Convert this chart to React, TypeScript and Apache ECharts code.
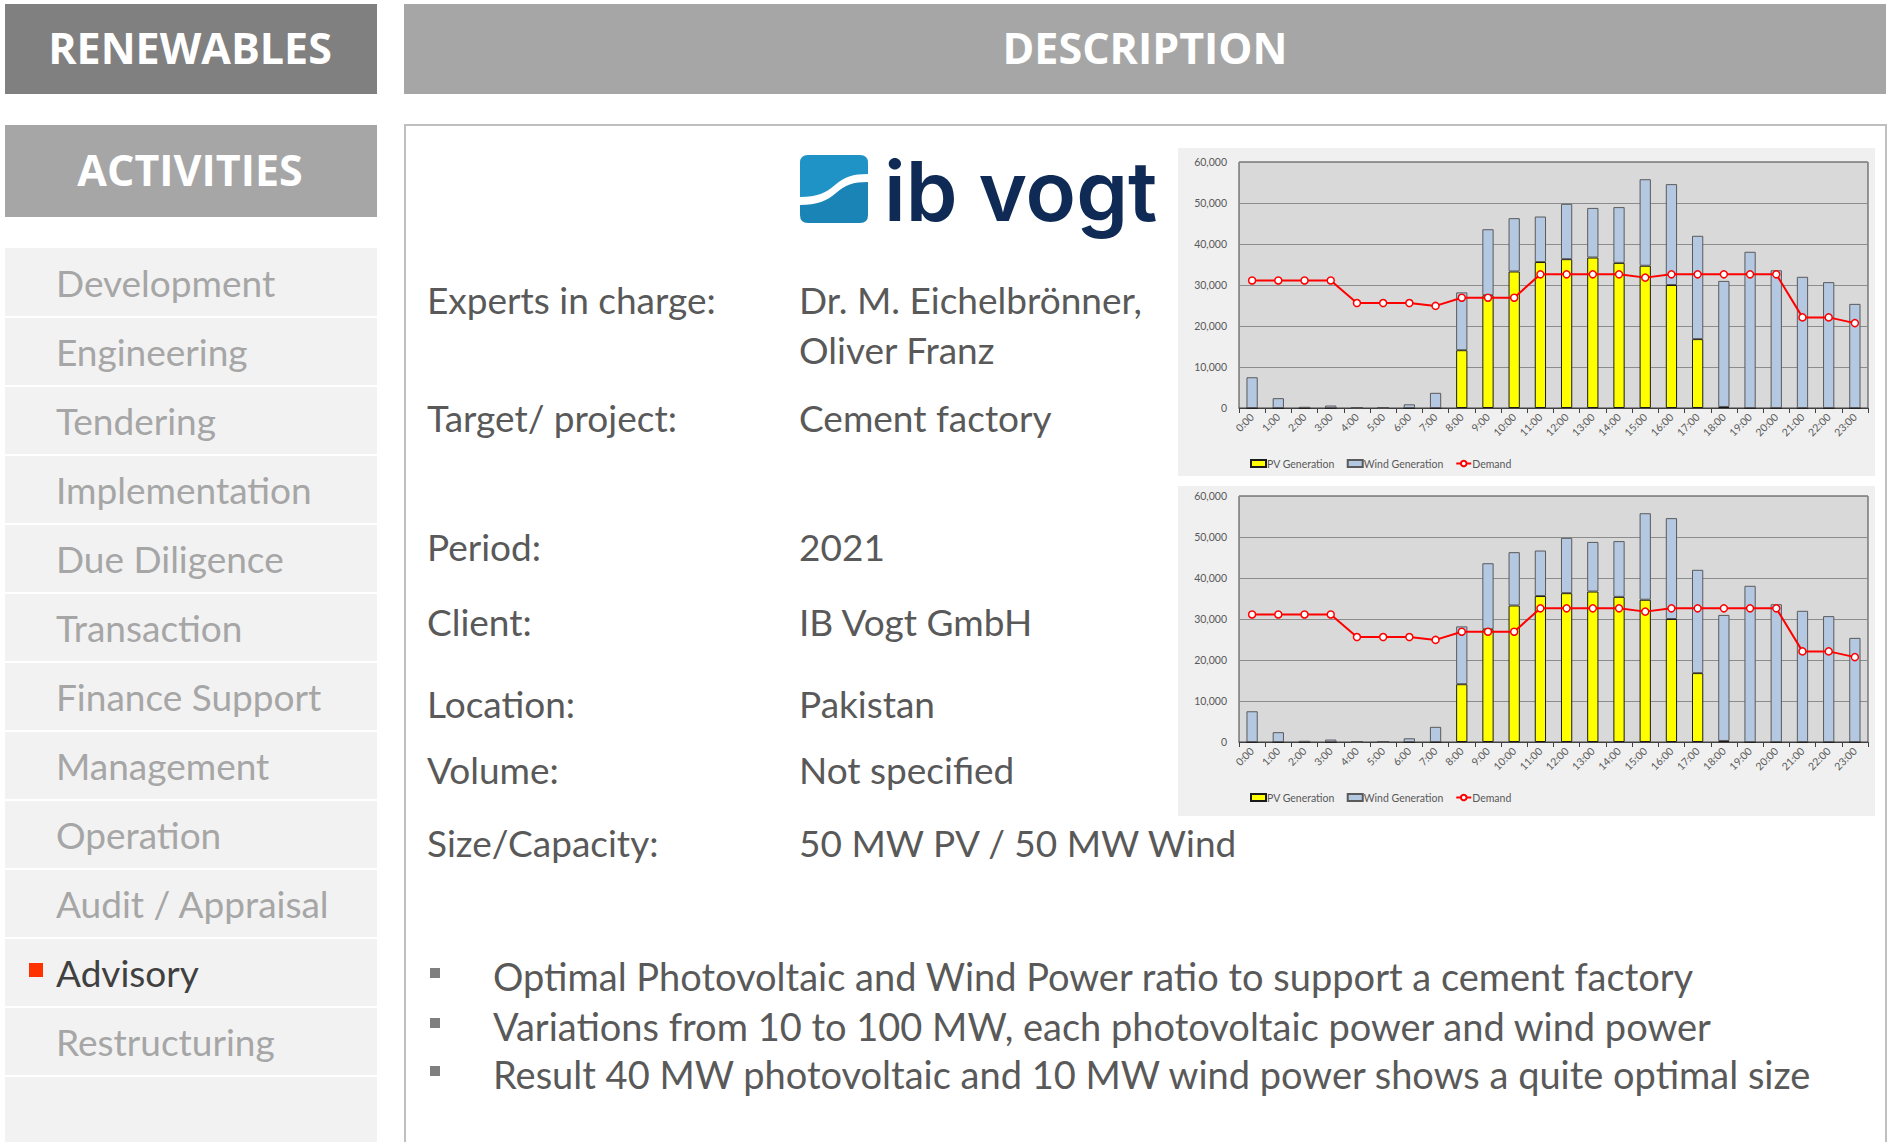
import React, { useEffect, useRef } from "react";
import * as echarts from "echarts";

// ---------------- data ----------------
const hours = [
  "0:00", "1:00", "2:00", "3:00", "4:00", "5:00", "6:00", "7:00", "8:00", "9:00", "10:00", "11:00",
  "12:00", "13:00", "14:00", "15:00", "16:00", "17:00", "18:00", "19:00", "20:00", "21:00", "22:00", "23:00",
];
const pvGeneration = [
  0, 0, 0, 0, 0, 0, 0, 0, 14100, 27500, 33300, 35600,
  36300, 36700, 35400, 34700, 30000, 16800, 250, 0, 0, 0, 0, 0,
];
const windGeneration = [
  7500, 2400, 300, 600, 0, 0, 900, 3700, 14100, 16100, 13000, 11100,
  13500, 12100, 13600, 21100, 24600, 25200, 30750, 38100, 33600, 32000, 30700, 25400,
];
const demand = [
  31100, 31100, 31100, 31100, 25600, 25600, 25600, 24900, 26900, 26900, 26900, 32600,
  32600, 32600, 32600, 31800, 32600, 32600, 32600, 32600, 32600, 22100, 22100, 20700,
];
const seriesNames = ["PV Generation", "Wind Generation", "Demand"];

const menuItems = [
  "Development", "Engineering", "Tendering", "Implementation", "Due Diligence", "Transaction",
  "Finance Support", "Management", "Operation", "Audit / Appraisal", "Advisory", "Restructuring",
];
const activeItem = "Advisory";

const infoLabels = ["Experts in charge:", "Target/ project:", "Period:", "Client:", "Location:", "Volume:", "Size/Capacity:"];
const infoValues = [
  ["Dr. M. Eichelbrönner,", "Oliver Franz"],
  ["Cement factory"],
  ["2021"],
  ["IB Vogt GmbH"],
  ["Pakistan"],
  ["Not specified"],
  ["50 MW PV / 50 MW Wind"],
];
const bullets = [
  "Optimal Photovoltaic and Wind Power ratio to support a cement factory",
  "Variations from 10 to 100 MW, each photovoltaic power and wind power",
  "Result 40 MW photovoltaic and 10 MW wind power shows a quite optimal size",
];

// ---------------- layout ----------------
const W = 1890;
const H = 1142;
const infoRowY = [299, 417, 546, 621, 703, 769, 842];
const infoLineGap = 50;
const bulletY = [976, 1026, 1074];
const chartTops = [162, 496];
const legendCenters = [465, 799];
const BODY_FONT = "Lato, 'Open Sans', sans-serif";
const HEAD_FONT = "'Open Sans', Lato, sans-serif";

// logo shapes
const LOGO_TOP = "M8 0H60Q68 0 68 8V19C53 19 44 22 35 30C26 38 17 42 0 42V8Q0 0 8 0Z";
const LOGO_BOTTOM = "M68 27V60Q68 68 60 68H8Q0 68 0 60V50C17 50 27 46 36 38C45 30 53 27 68 27Z";
echarts.graphic.registerShape("logoTop", echarts.graphic.extendPath(LOGO_TOP, {}));
echarts.graphic.registerShape("logoBottom", echarts.graphic.extendPath(LOGO_BOTTOM, {}));

function buildGraphic() {
  const els: any[] = [];
  // headers
  els.push({ type: "rect", shape: { x: 5, y: 4, width: 372, height: 90 }, style: { fill: "#808080" }, z: 1 });
  els.push({ type: "rect", shape: { x: 404, y: 4, width: 1482, height: 90 }, style: { fill: "#a6a6a6" }, z: 1 });
  els.push({ type: "rect", shape: { x: 5, y: 125, width: 372, height: 92 }, style: { fill: "#a6a6a6" }, z: 1 });
  const head = (text: string, x: number, y: number) => ({
    type: "text", x, y, z: 10,
    style: { text, fill: "#ffffff", fontFamily: HEAD_FONT, fontWeight: "bold", fontSize: 43, align: "center", verticalAlign: "middle" },
  });
  els.push(head("RENEWABLES", 190, 47));
  els.push(head("DESCRIPTION", 1145, 47));
  els.push(head("ACTIVITIES", 190, 169));

  // menu
  els.push({ type: "rect", shape: { x: 5, y: 248, width: 372, height: H - 248 }, style: { fill: "#f2f2f2" }, z: 1 });
  menuItems.forEach((m, k) => {
    const top = 248 + 69 * k;
    els.push({ type: "rect", shape: { x: 5, y: top + 68, width: 372, height: 2 }, style: { fill: "#ffffff" }, z: 2 });
    const active = m === activeItem;
    els.push({
      type: "text", x: 56, y: top + 34, z: 10,
      style: { text: m, fill: active ? "#404040" : "#a6a6a6", fontFamily: BODY_FONT, fontSize: 37, align: "left", verticalAlign: "middle" },
    });
    if (active) {
      els.push({ type: "rect", shape: { x: 29, y: top + 25, width: 14, height: 14 }, style: { fill: "#ff3300" }, z: 10 });
    }
  });

  // content panel
  els.push({ type: "rect", shape: { x: 405, y: 125, width: 1481, height: H - 120 }, style: { fill: "#ffffff", stroke: "#bfbfbf", lineWidth: 2 }, z: 0 });

  // logo
  els.push({ type: "logoTop", x: 800, y: 155, style: { fill: "#1f93c6" }, z: 10 });
  els.push({ type: "logoBottom", x: 800, y: 155, style: { fill: "#1a84b7" }, z: 10 });
  els.push({
    type: "text", x: 884, y: 191, z: 10,
    style: { text: "ib vogt", fill: "#0e2a55", fontFamily: "Inter, 'Open Sans', sans-serif", fontWeight: 600, fontSize: 83, align: "left", verticalAlign: "middle" },
  });

  // info rows
  infoLabels.forEach((lab, i) => {
    els.push({
      type: "text", x: 427, y: infoRowY[i], z: 10,
      style: { text: lab, fill: "#595959", fontFamily: BODY_FONT, fontSize: 37, align: "left", verticalAlign: "middle" },
    });
    infoValues[i].forEach((v, j) => {
      els.push({
        type: "text", x: 799, y: infoRowY[i] + j * infoLineGap, z: 10,
        style: { text: v, fill: "#595959", fontFamily: BODY_FONT, fontSize: 37, align: "left", verticalAlign: "middle" },
      });
    });
  });

  // bullets
  bullets.forEach((b, i) => {
    els.push({ type: "rect", shape: { x: 430, y: bulletY[i] - 8, width: 10, height: 10 }, style: { fill: "#7f7f7f" }, z: 10 });
    els.push({
      type: "text", x: 493, y: bulletY[i], z: 10,
      style: { text: b, fill: "#595959", fontFamily: BODY_FONT, fontSize: 38, align: "left", verticalAlign: "middle" },
    });
  });

  // chart backgrounds
  els.push({ type: "rect", shape: { x: 1178, y: 148, width: 697, height: 328 }, style: { fill: "#f0f0f0" }, z: 1 });
  els.push({ type: "rect", shape: { x: 1178, y: 486, width: 697, height: 330 }, style: { fill: "#f0f0f0" }, z: 1 });
  return els;
}

function buildOption() {
  const grids = chartTops.map((t) => ({
    left: 1239, top: t, width: 629, height: 246,
    show: true, backgroundColor: "#d9d9d9", borderColor: "#404040", borderWidth: 1, z: 3,
  }));
  const xAxes = chartTops.map((_, i) => ({
    type: "category", gridIndex: i, data: hours,
    axisLine: { show: true, lineStyle: { color: "#404040", width: 1 } },
    axisTick: { show: true, length: 5, lineStyle: { color: "#404040" } },
    axisLabel: { interval: 0, rotate: 45, fontSize: 10.5, color: "#595959", margin: 7, fontFamily: BODY_FONT },
    z: 4,
  }));
  const yAxes = chartTops.map((_, i) => ({
    type: "value", gridIndex: i, min: 0, max: 60000, interval: 10000,
    axisLine: { show: false }, axisTick: { show: false },
    axisLabel: {
      fontSize: 10.5, color: "#595959", margin: 12, fontFamily: BODY_FONT,
      formatter: (v: number) => v.toLocaleString("en-US"),
    },
    splitLine: { show: true, lineStyle: { color: "#8c8c8c", width: 1 } },
    z: 4,
  }));
  const series: any[] = [];
  chartTops.forEach((_, i) => {
    series.push({
      name: seriesNames[0], type: "bar", stack: "gen" + i, xAxisIndex: i, yAxisIndex: i,
      data: pvGeneration, barWidth: "43%",
      itemStyle: { color: "#ffff00", borderColor: "#1a1a1a", borderWidth: 1 }, z: 5,
    });
    series.push({
      name: seriesNames[1], type: "bar", stack: "gen" + i, xAxisIndex: i, yAxisIndex: i,
      data: windGeneration, barWidth: "43%",
      itemStyle: { color: "#b4c8e1", borderColor: "#5a5a5a", borderWidth: 1 }, z: 5,
    });
    series.push({
      name: seriesNames[2], type: "line", xAxisIndex: i, yAxisIndex: i, data: demand,
      symbol: "circle", symbolSize: 7, showSymbol: true,
      lineStyle: { color: "#ff0000", width: 2 },
      itemStyle: { color: "#ffffff", borderColor: "#ff0000", borderWidth: 1.5 }, z: 6,
    });
  });
  const legends = legendCenters.map((c) => ({
    top: c - 7, left: 1250, padding: 0, itemWidth: 15, itemHeight: 7, itemGap: 12,
    textStyle: { fontSize: 10.5, color: "#595959", fontFamily: BODY_FONT, padding: [0, 0, 0, -4] },
    data: [
      { name: seriesNames[0], icon: "rect" },
      { name: seriesNames[1], icon: "rect" },
      { name: seriesNames[2] },
    ],
    selectedMode: false,
  }));
  return {
    animation: false,
    backgroundColor: "#ffffff",
    textStyle: { fontFamily: BODY_FONT },
    grid: grids,
    xAxis: xAxes,
    yAxis: yAxes,
    legend: legends,
    series,
    graphic: { elements: buildGraphic() },
  };
}

export default function App() {
  const ref = useRef<HTMLDivElement>(null);
  useEffect(() => {
    if (!ref.current) return;
    const chart = echarts.init(ref.current, null, { renderer: "svg", width: W, height: H });
    chart.setOption(buildOption() as any);
    return () => chart.dispose();
  }, []);
  return <div ref={ref} style={{ position: "absolute", left: 0, top: 0, width: W, height: H, background: "#ffffff" }} />;
}
